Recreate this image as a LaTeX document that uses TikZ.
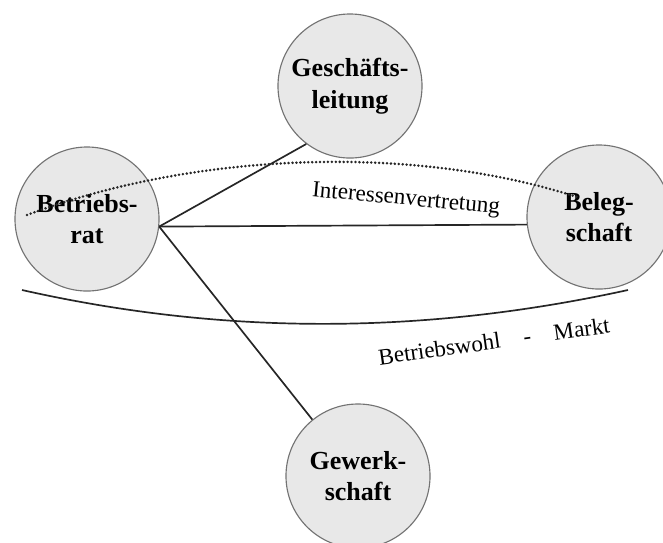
\documentclass[tikz,border=0pt]{standalone}
\usepackage{fontspec}
\setmainfont{Liberation Serif}
\begin{document}
\begin{tikzpicture}[x=0.025cm, y=-0.025cm,
    kreis/.style={circle, draw=black!55, line width=0.8pt, fill=black!9,
      minimum size=3.6cm, inner sep=0pt, align=center,
      font=\bfseries\fontsize{18.5}{22.5}\selectfont},
    linie/.style={line width=1.2pt, black!85},
    beschr/.style={font=\fontsize{16.4}{19}\selectfont, inner sep=0pt}]
  \useasboundingbox (0,0) rectangle (663,542);
  % Kreise
  \node[kreis] (br) at (87,219) {Betriebs-\\rat};
  \node[kreis] (gl) at (350,86) {Geschäfts-\\leitung};
  \node[kreis] (bs) at (599,217) {Beleg-\\schaft};
  \node[kreis] (gw) at (358,476) {Gewerk-\\schaft};
  % Verbindungen
  \draw[linie] (br.-6) -- (gl.233);
  \draw[linie] (br.-6) -- (bs.186);
  \draw[linie] (br.-6) -- (gw.129);
  % Interessenvertretung
  \coordinate (iv1) at (27,215);
  \coordinate (iv2) at (580,198);
  \draw[line width=2pt, line cap=round, dash pattern=on 0pt off 2.8pt, black!85]
        (iv1) .. controls (200,150) and (420,145) .. (iv2);
  \node[beschr, rotate=-5.3] (ivtext) at (406,200) {Interessenvertretung};
  % Betriebswohl - Markt
  \coordinate (bm1) at (22,290);
  \coordinate (bm2) at (628,290);
  \draw[linie] (bm1) .. controls (200,330) and (400,340) .. (bm2);
  \node[beschr, rotate=8] (bmtext) at (494,341) {Betriebswohl\quad-\quad Markt};
\end{tikzpicture}
\end{document}
